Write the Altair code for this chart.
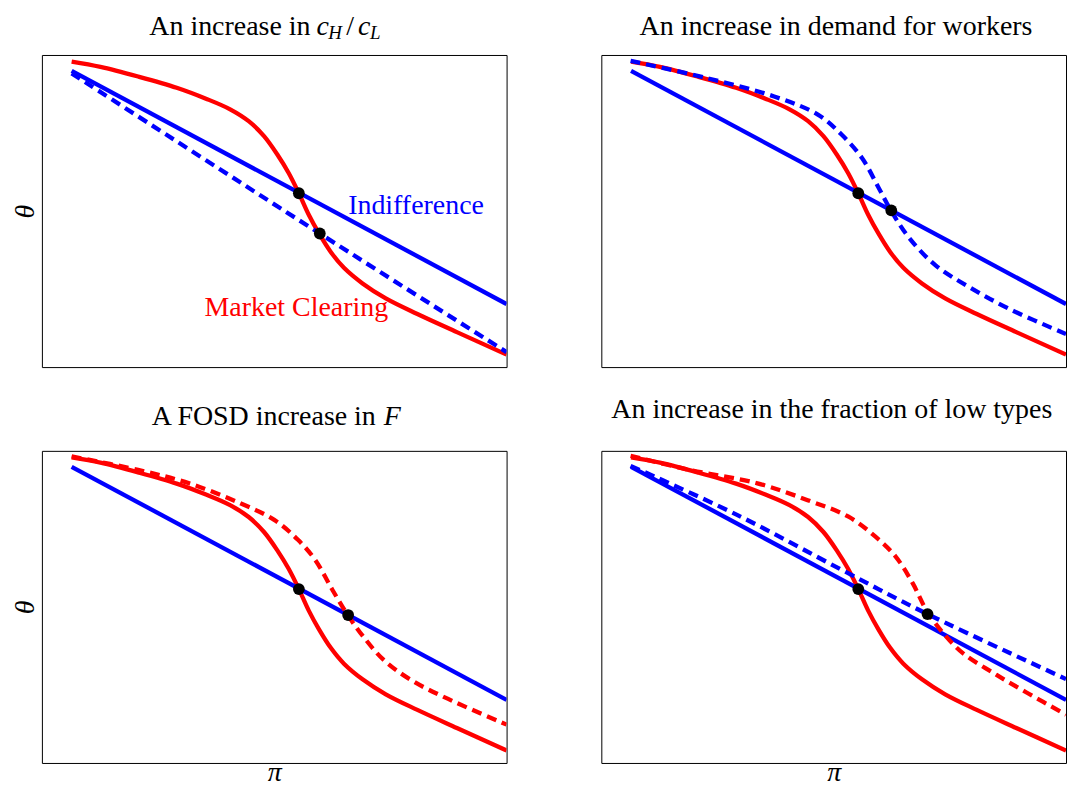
import altair as alt
import pandas as pd

SERIF = "Liberation Serif"
RED = "#ff0000"
BLUE = "#0000ff"

# ---- data (fractions of the plot area) ----
# base market-clearing curve (same in every panel)
mc_x = [0.064, 0.126, 0.207, 0.290, 0.353, 0.405, 0.445, 0.478, 0.508, 0.531, 0.553, 0.574, 0.596, 0.622, 0.650, 0.690, 0.740, 0.808, 0.893, 1.0]
mc_y = [0.979, 0.962, 0.931, 0.895, 0.860, 0.826, 0.788, 0.740, 0.678, 0.622, 0.557, 0.489, 0.429, 0.368, 0.318, 0.268, 0.220, 0.170, 0.112, 0.040]
# base indifference line (same in every panel)
ind_x = [0.064, 1.0]
ind_y = [0.949, 0.202]

# panel 1: increase in cH/cL -> new indifference
p1_new_x = [0.064, 0.600, 1.0]
p1_new_y = [0.941, 0.426, 0.048]
p1_eq_x = [0.553, 0.598]
p1_eq_y = [0.557, 0.428]

# panel 2: increase in demand for workers -> new (blue dashed) curve
p2_new_x = [0.063, 0.227, 0.372, 0.466, 0.517, 0.561, 0.597, 0.624, 0.662, 0.720, 0.790, 0.880, 1.0]
p2_new_y = [0.981, 0.926, 0.867, 0.809, 0.745, 0.670, 0.574, 0.500, 0.415, 0.325, 0.258, 0.185, 0.106]
p2_eq_x = [0.553, 0.624]
p2_eq_y = [0.557, 0.502]

# panel 3: FOSD increase in F -> new market clearing
p3_new_x = [0.064, 0.207, 0.317, 0.427, 0.500, 0.551, 0.588, 0.625, 0.659, 0.691, 0.735, 0.793, 0.867, 1.0]
p3_new_y = [0.982, 0.939, 0.896, 0.832, 0.779, 0.715, 0.651, 0.555, 0.472, 0.406, 0.331, 0.267, 0.210, 0.123]
p3_eq_x = [0.553, 0.659]
p3_eq_y = [0.557, 0.474]

# panel 4: increase in fraction of low types -> both curves shift
p4_mc_x = [0.063, 0.190, 0.336, 0.444, 0.532, 0.590, 0.633, 0.670, 0.699, 0.735, 0.778, 0.844, 0.916, 1.0]
p4_mc_y = [0.984, 0.939, 0.896, 0.842, 0.789, 0.725, 0.662, 0.576, 0.491, 0.417, 0.352, 0.288, 0.225, 0.155]
p4_ind_x = [0.063, 0.292, 0.517, 0.702, 1.0]
p4_ind_y = [0.952, 0.795, 0.619, 0.477, 0.269]
p4_eq_x = [0.553, 0.702]
p4_eq_y = [0.557, 0.477]

# text annotations: x, y, text, style, align, color
p1_text = [
    (0.578, 1.064, "An increase in", "roman", "right", "black"),
    (0.591, 1.064, "c", "italic", "left", "black"),
    (0.616, 1.064, "H", "sub", "left", "black"),
    (0.655, 1.064, "/", "roman", "left", "black"),
    (0.680, 1.064, "c", "italic", "left", "black"),
    (0.706, 1.064, "L", "sub", "left", "black"),
    (0.659, 0.489, "Indifference", "roman", "left", BLUE),
    (0.350, 0.163, "Market Clearing", "roman", "left", RED),
]
p2_text = [(0.505, 1.064, "An increase in demand for workers", "roman", "center", "black")]
p3_text = [
    (0.7186, 1.083, "A FOSD increase in", "roman", "right", "black"),
    (0.7356, 1.083, "F", "italic", "left", "black"),
]
p4_text = [(0.496, 1.105, "An increase in the fraction of low types", "roman", "center", "black")]

W, H = 466, 313


def frame(xs, ys):
    return pd.DataFrame({"x": xs, "y": ys})


def encodings(show_theta, show_pi):
    scale = alt.Scale(domain=[0, 1], nice=False, zero=False)
    common = dict(labels=False, ticks=False, domain=False, grid=False, minExtent=0,
                  titleFont=SERIF, titleFontSize=28, titleFontStyle="italic",
                  titleFontWeight="normal", titleColor="black", titleBaseline="alphabetic")
    xa = alt.Axis(title="π", titlePadding=18, **common) if show_pi else None
    ya = alt.Axis(title="θ", titlePadding=8, **common) if show_theta else None
    return (alt.X("x:Q", scale=scale, axis=xa), alt.Y("y:Q", scale=scale, axis=ya))


def line(xs, ys, color, dashed, xe, ye):
    kw = dict(color=color, strokeWidth=4.3, interpolate="catmull-rom", clip=True)
    if dashed:
        kw["strokeDash"] = [10, 6]
    return alt.Chart(frame(xs, ys)).mark_line(**kw).encode(x=xe, y=ye)


def texts(items, xe, ye):
    layers = []
    for (x, y, t, style, align, color) in items:
        d = pd.DataFrame({"x": [x], "y": [y], "t": [t]})
        kw = dict(font=SERIF, fontSize=28, align=align, baseline="alphabetic", color=color)
        if style == "italic":
            kw["fontStyle"] = "italic"
        if style == "sub":
            kw["fontStyle"] = "italic"
            kw["fontSize"] = 19
            kw["dy"] = 4
        layers.append(alt.Chart(d).mark_text(**kw).encode(x=xe, y=ye, text="t:N"))
    return layers


def panel(dashed_curves, eq_x, eq_y, text_items, show_theta, show_pi):
    xe, ye = encodings(show_theta, show_pi)
    layers = [
        line(mc_x, mc_y, RED, False, xe, ye),
        line(ind_x, ind_y, BLUE, False, xe, ye),
    ]
    for (xs, ys, color) in dashed_curves:
        layers.append(line(xs, ys, color, True, xe, ye))
    layers.append(
        alt.Chart(frame(eq_x, eq_y)).mark_circle(size=140, color="black", opacity=1).encode(x=xe, y=ye)
    )
    layers += texts(text_items, xe, ye)
    return alt.layer(*layers).properties(width=W, height=H)


tl = panel([(p1_new_x, p1_new_y, BLUE)], p1_eq_x, p1_eq_y, p1_text, True, False)
tr = panel([(p2_new_x, p2_new_y, BLUE)], p2_eq_x, p2_eq_y, p2_text, False, False)
bl = panel([(p3_new_x, p3_new_y, RED)], p3_eq_x, p3_eq_y, p3_text, True, True)
br = panel([(p4_mc_x, p4_mc_y, RED), (p4_ind_x, p4_ind_y, BLUE)], p4_eq_x, p4_eq_y, p4_text, False, True)

chart = alt.vconcat(
    alt.hconcat(tl, tr, spacing=93),
    alt.hconcat(bl, br, spacing=93),
    spacing=27,
).properties(
    padding={"left": 3, "top": 3, "right": 0, "bottom": 0}, background="white"
).configure_view(stroke="black", strokeWidth=1)

chart.save("out.html", embed_options={"renderer": "svg", "actions": False})
